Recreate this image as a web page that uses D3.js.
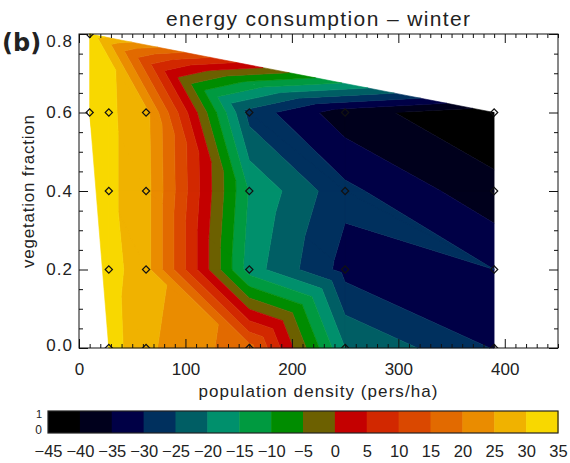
<!DOCTYPE html>
<html>
<head>
<meta charset="utf-8">
<script src="https://cdn.jsdelivr.net/npm/d3@7"></script>
<style>
  body { margin: 0; background: #fff; }
  text { font-family: "Liberation Sans", Arial, Helvetica, sans-serif; fill: #222; }
</style>
</head>
<body>
<svg id="chart" width="570" height="463"></svg>
<script>
// Regular grid of model sites: population density (pers/ha) x vegetation fraction
const densityColumns = [28, 63, 160, 250, 390];
const vegetationRows = [0.6, 0.4, 0.2, 0.0];

// Winter energy consumption change at each grid site, one array per vegetation row
const energyVeg06 = [31, 26.5, -27, -38, -44];
const energyVeg04 = [31, 27, -15.5, -28.7, -38.5];
const energyVeg02 = [32, 27, -17.5, -31.9, -30];
const energyVeg00 = [32.5, 26, 17, -20, -30.3];

// Low-density sites outside the regular grid
const extraDensity = [10, 10];
const extraVegetation = [0.8, 0.6];
const extraEnergy = [33, 32.5];

// Triangle split of each grid cell: "m" joins top-left to bottom-right, "a" top-right to bottom-left
const cellDiagonal = [
  ["m", "m", "m", "m"],
  ["m", "m", "m", "m"],
  ["m", "m", "a", "m"]
];

// Contour levels and their fill colours
const levels = d3.range(-45, 40, 5);
const bandColors = [
  "#000000", "#00001c", "#000046", "#00305e", "#005e64", "#00906c",
  "#009a40", "#008c00", "#6c6000", "#c40000", "#d22800", "#da4800",
  "#e26a00", "#ea8c00", "#f0b200", "#f8d800"
];

// Axis ticks
const xMajorTicks = [0, 100, 200, 300, 400];
const yMajorTicks = [0, 0.2, 0.4, 0.6, 0.8];
const barLabels = levels;

const svg = d3.select("#chart");
const plot = { left: 79, right: 558, top: 34, bottom: 348 };
const x = d3.scaleLinear().domain([0, 450]).range([plot.left, plot.right]);
const y = d3.scaleLinear().domain([0, 0.8]).range([plot.bottom, plot.top]);

// ---- sites and triangular mesh ----
const sites = [];
extraDensity.forEach((d, i) => sites.push({ d, f: extraVegetation[i], v: extraEnergy[i] }));
const gridEnergy = [energyVeg06, energyVeg04, energyVeg02, energyVeg00];
vegetationRows.forEach((f, r) => densityColumns.forEach((d, c) => sites.push({ d, f, v: gridEnergy[r][c] })));
const g = (r, c) => 2 + r * densityColumns.length + c;

const tris = [];
tris.push([0, 1, g(0, 0)]);
for (let c = 0; c < densityColumns.length - 1; c++) tris.push([0, g(0, c), g(0, c + 1)]);
for (let r = 0; r < vegetationRows.length - 1; r++) tris.push([1, g(r, 0), g(r + 1, 0)]);
cellDiagonal.forEach((row, r) => row.forEach((k, c) => {
  const tl = g(r, c), tr = g(r, c + 1), bl = g(r + 1, c), br = g(r + 1, c + 1);
  if (k === "m") tris.push([tl, tr, br], [tl, bl, br]);
  else tris.push([tl, tr, bl], [tr, bl, br]);
}));

// triangles in pixel space, all with the same winding
const pixTris = tris.map(t => {
  const p = t.map(i => ({ x: x(sites[i].d), y: y(sites[i].f), v: sites[i].v }));
  const area = (p[1].x - p[0].x) * (p[2].y - p[0].y) - (p[2].x - p[0].x) * (p[1].y - p[0].y);
  return area < 0 ? p.reverse() : p;
});

// keep the part of a polygon on one side of a level (linear interpolation along edges)
function clip(poly, level, keepAbove) {
  const out = [];
  const inside = q => keepAbove ? q.v >= level : q.v <= level;
  for (let i = 0; i < poly.length; i++) {
    const a = poly[i], b = poly[(i + 1) % poly.length];
    const ai = inside(a), bi = inside(b);
    if (ai) out.push(a);
    if (ai !== bi) {
      const t = (level - a.v) / (b.v - a.v);
      out.push({ x: a.x + t * (b.x - a.x), y: a.y + t * (b.y - a.y), v: level });
    }
  }
  return out;
}

const bands = svg.append("g");
for (let i = 0; i < bandColors.length; i++) {
  const lo = levels[i], hi = levels[i + 1];
  const polys = pixTris
    .map(p => clip(clip(p, lo, true), hi, false))
    .filter(p => p.length >= 3);
  if (!polys.length) continue;
  const d = polys.map(p => "M" + p.map(q => q.x.toFixed(2) + "," + q.y.toFixed(2)).join("L") + "Z").join("");
  bands.append("path")
    .attr("d", d)
    .attr("fill", bandColors[i])
    .attr("stroke", bandColors[i])
    .attr("stroke-width", 0.6)
    .attr("stroke-linejoin", "round");
}

// ---- site markers ----
svg.append("clipPath").attr("id", "plotClip")
  .append("rect")
  .attr("x", plot.left).attr("y", plot.top)
  .attr("width", plot.right - plot.left).attr("height", plot.bottom - plot.top);

const diamond = d3.symbol().type(d3.symbolSquare).size(26);
svg.append("g").attr("clip-path", "url(#plotClip)")
  .selectAll("path")
  .data(sites)
  .join("path")
  .attr("d", diamond)
  .attr("transform", s => `translate(${x(s.d)},${y(s.f)}) rotate(45)`)
  .attr("fill", "none")
  .attr("stroke", "#111")
  .attr("stroke-width", 1.2);

// ---- axes ----
const axisStyle = sel => {
  sel.select(".domain").remove();
  sel.selectAll("line").attr("stroke", "#111");
  sel.selectAll("text").style("font-size", "17px").attr("fill", "#222");
};
const xMinor = d3.range(0, 451, 10).filter(v => v % 100 !== 0);
const yMinor = d3.range(0, 17).map(i => i * 0.05).filter((v, i) => i % 4 !== 0);

svg.append("g").attr("transform", `translate(0,${plot.bottom})`)
  .call(d3.axisBottom(x).tickValues(xMajorTicks).tickSize(-9).tickPadding(15).tickFormat(d3.format("d")))
  .call(axisStyle);
svg.append("g").attr("transform", `translate(0,${plot.bottom})`)
  .call(d3.axisBottom(x).tickValues(xMinor).tickSize(-4).tickFormat(""))
  .call(axisStyle);
svg.append("g").attr("transform", `translate(0,${plot.top})`)
  .call(d3.axisTop(x).tickValues(xMajorTicks).tickSize(-9).tickFormat(""))
  .call(axisStyle);
svg.append("g").attr("transform", `translate(0,${plot.top})`)
  .call(d3.axisTop(x).tickValues(xMinor).tickSize(-4).tickFormat(""))
  .call(axisStyle);

const yAxisG = svg.append("g").attr("transform", `translate(${plot.left},0)`)
  .call(d3.axisLeft(y).tickValues(yMajorTicks).tickSize(-9).tickPadding(6).tickFormat(d3.format(".1f")))
  .call(axisStyle);
yAxisG.selectAll("text").style("letter-spacing", "1px")
  .attr("y", d => d === 0.8 ? 7 : d === 0 ? -3 : 0);
svg.append("g").attr("transform", `translate(${plot.left},0)`)
  .call(d3.axisLeft(y).tickValues(yMinor).tickSize(-4).tickFormat(""))
  .call(axisStyle);
svg.append("g").attr("transform", `translate(${plot.right},0)`)
  .call(d3.axisRight(y).tickValues(yMajorTicks).tickSize(-9).tickFormat(""))
  .call(axisStyle);
svg.append("g").attr("transform", `translate(${plot.right},0)`)
  .call(d3.axisRight(y).tickValues(yMinor).tickSize(-4).tickFormat(""))
  .call(axisStyle);

svg.append("rect")
  .attr("x", plot.left).attr("y", plot.top)
  .attr("width", plot.right - plot.left).attr("height", plot.bottom - plot.top)
  .attr("fill", "none").attr("stroke", "#111").attr("stroke-width", 1);

// ---- titles ----
svg.append("text")
  .attr("x", 318).attr("y", 26)
  .attr("text-anchor", "middle")
  .attr("textLength", 304)
  .style("font-size", "21px")
  .text("energy consumption \u2013 winter");

svg.append("text")
  .attr("x", 2).attr("y", 51)
  .style("font-family", "'DejaVu Sans', sans-serif")
  .style("font-weight", "bold")
  .style("font-size", "24px")
  .attr("fill", "#111")
  .text("(b)");

svg.append("text")
  .attr("x", 318).attr("y", 397)
  .attr("text-anchor", "middle")
  .attr("textLength", 239)
  .style("font-size", "17px")
  .text("population density (pers/ha)");

svg.append("text")
  .attr("transform", "translate(33.5,191.5) rotate(-90)")
  .attr("text-anchor", "middle")
  .attr("textLength", 153)
  .style("font-size", "17px")
  .text("vegetation fraction");

// ---- colour bar ----
const bar = { left: 48, right: 558, top: 411, bottom: 433 };
const cx = d3.scaleLinear().domain([levels[0], levels[levels.length - 1]]).range([bar.left, bar.right]);
svg.append("g").selectAll("rect")
  .data(bandColors)
  .join("rect")
  .attr("x", (c, i) => cx(levels[i]))
  .attr("y", bar.top)
  .attr("width", (c, i) => cx(levels[i + 1]) - cx(levels[i]) + 0.5)
  .attr("height", bar.bottom - bar.top)
  .attr("fill", c => c);
svg.append("rect")
  .attr("x", bar.left).attr("y", bar.top)
  .attr("width", bar.right - bar.left).attr("height", bar.bottom - bar.top)
  .attr("fill", "none").attr("stroke", "#222").attr("stroke-width", 1.2);

const barAxis = svg.append("g").attr("transform", `translate(0,${bar.bottom})`)
  .call(d3.axisBottom(cx).tickValues(barLabels).tickSize(0).tickPadding(12)
    .tickFormat(v => v < 0 ? "\u2212" + Math.abs(v) : String(v)));
barAxis.select(".domain").remove();
barAxis.selectAll("text").style("font-size", "16.5px").attr("fill", "#222");

svg.append("text").attr("x", 42).attr("y", 418).attr("text-anchor", "end")
  .style("font-size", "11px").text("1");
svg.append("text").attr("x", 42).attr("y", 434).attr("text-anchor", "end")
  .style("font-size", "12px").text("0");
</script>
</body>
</html>
